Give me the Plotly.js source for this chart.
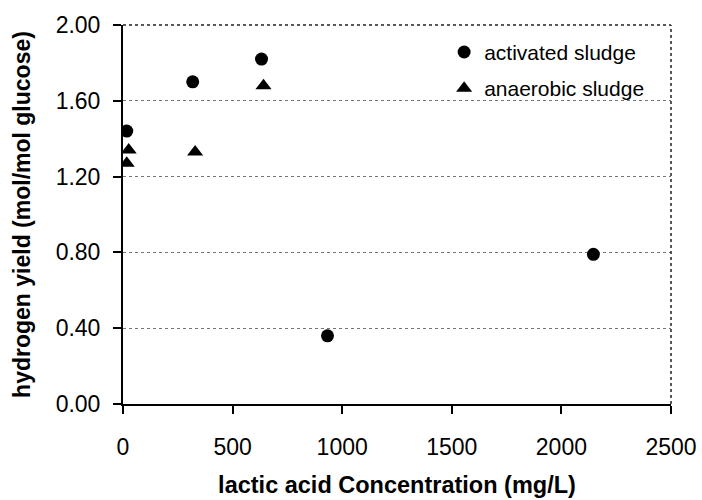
<!DOCTYPE html>
<html>
<head>
<meta charset="utf-8">
<script src="https://cdn.plot.ly/plotly-3.0.1.min.js"></script>
<style>
  html, body { margin: 0; padding: 0; background: #fff; }
  #chart { width: 702px; height: 500px; }
</style>
</head>
<body>
<div id="chart"></div>
<script>
// Hydrogen yield versus lactic acid concentration for two seed sludges
const concActivated  = [17, 318, 632, 933, 2146];
const yieldActivated = [1.44, 1.70, 1.82, 0.36, 0.79];

const concAnaerobic  = [17, 26, 329, 641];
const yieldAnaerobic = [1.27, 1.34, 1.33, 1.68];

const xTicks = [0, 500, 1000, 1500, 2000, 2500];
const yTicks = [0.0, 0.4, 0.8, 1.2, 1.6, 2.0];

const FONT = '"Liberation Sans", Arial, Helvetica, sans-serif';

const traces = [
  {
    x: concActivated, y: yieldActivated,
    type: 'scatter', mode: 'markers', name: 'activated sludge',
    legendgroup: 'a',
    marker: { symbol: 'circle', size: 13, color: '#000' }
  },
  {
    x: concAnaerobic, y: yieldAnaerobic,
    type: 'scatter', mode: 'markers', name: 'anaerobic sludge',
    legendgroup: 'b',
    marker: { symbol: 'triangle-up', size: 14, color: '#000' }
  }
];

const layout = {
  width: 702, height: 500,
  margin: { l: 123, r: 31, t: 25, b: 96 },
  paper_bgcolor: '#fff', plot_bgcolor: '#fff',
  font: { family: FONT, color: '#000' },
  showlegend: true,
  legend: {
    x: 0.586, y: 0.982, xanchor: 'left', yanchor: 'top',
    bgcolor: 'rgba(0,0,0,0)', borderwidth: 0,
    font: { family: FONT, size: 21, color: '#000' },
    tracegroupgap: 6
  },
  xaxis: {
    range: [0, 2500],
    tickvals: xTicks, ticktext: xTicks.map(String),
    ticks: 'outside', ticklen: 8, tickwidth: 2, tickcolor: '#000',
    showline: true, linecolor: '#000', linewidth: 2,
    showgrid: false, zeroline: false,
    tickfont: { family: FONT, size: 23, color: '#000' },
    ticklabelstandoff: 13,
    title: { text: '<b>lactic acid Concentration (mg/L)</b>', font: { family: FONT, size: 23.5, color: '#000' }, standoff: 18 }
  },
  yaxis: {
    range: [0, 2],
    tickvals: yTicks, ticktext: yTicks.map(v => v.toFixed(2)),
    ticks: 'outside', ticklen: 8, tickwidth: 2, tickcolor: '#000',
    showline: true, linecolor: '#000', linewidth: 2,
    showgrid: true, gridcolor: '#777', gridwidth: 1, griddash: 'dot',
    zeroline: false,
    tickfont: { family: FONT, size: 23, color: '#000' },
    ticklabelstandoff: 8,
    title: { text: '<b>hydrogen yield (mol/mol glucose)</b>', font: { family: FONT, size: 23, color: '#000' }, standoff: 19 }
  },
  shapes: [
    // dotted frame along the top and right of the plot area
    { type: 'line', xref: 'paper', yref: 'paper', x0: 0, x1: 1, y0: 1, y1: 1,
      line: { color: '#222', width: 1.5, dash: 'dot' } },
    { type: 'line', xref: 'paper', yref: 'paper', x0: 1, x1: 1, y0: 0, y1: 1,
      line: { color: '#222', width: 1.5, dash: 'dot' } }
  ]
};

Plotly.newPlot('chart', traces, layout, { displayModeBar: false, staticPlot: true });
</script>
</body>
</html>
